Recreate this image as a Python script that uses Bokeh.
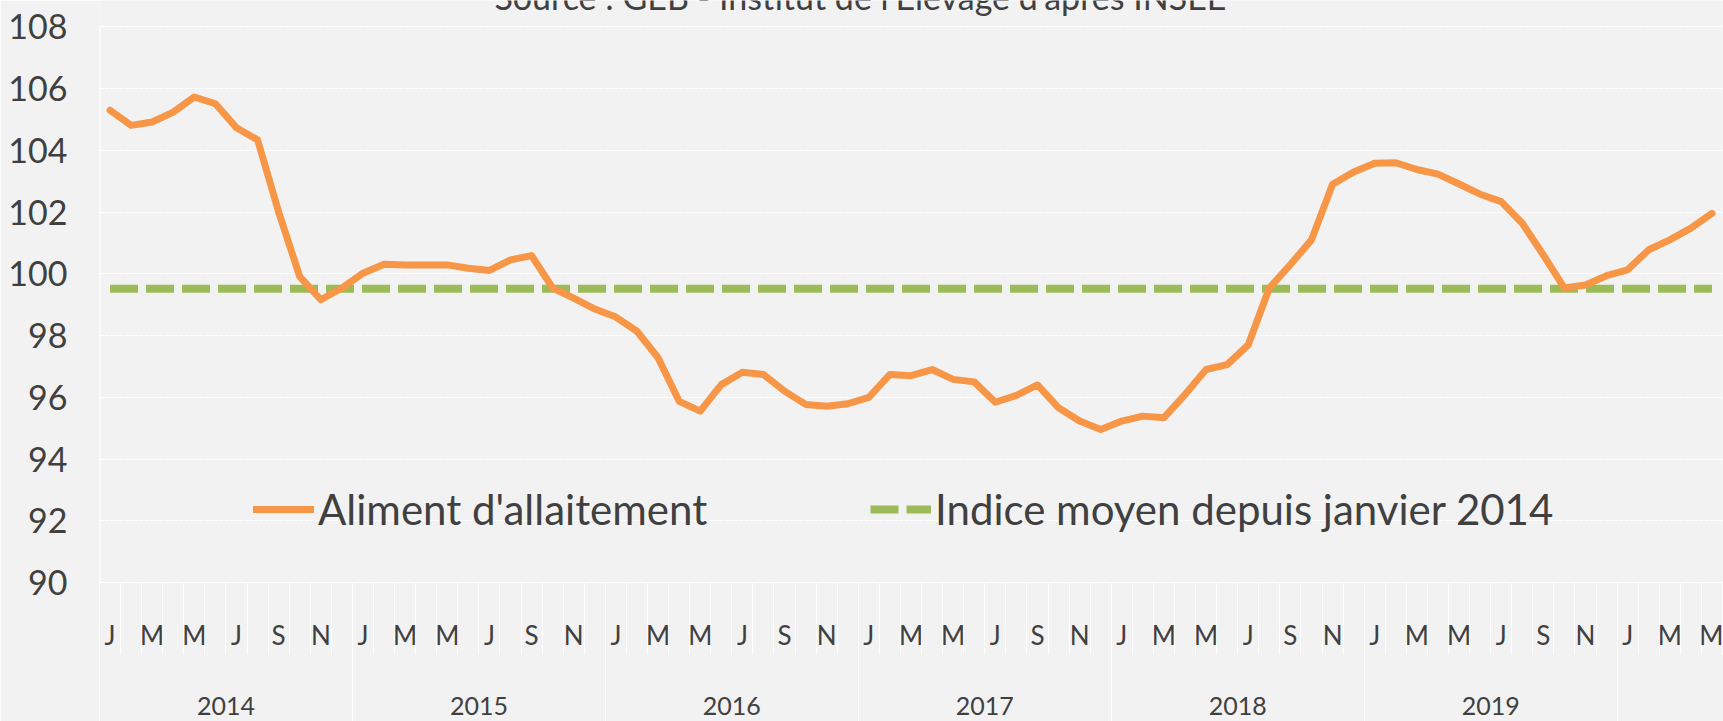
from bokeh.plotting import figure
from bokeh.models import FixedTicker, LinearAxis, Range1d, Legend, LegendItem, Label
from bokeh.embed import file_html
from bokeh.resources import INLINE

# ---------------- data ----------------
years = ["2014", "2015", "2016", "2017", "2018", "2019"]
month_letters = ["J", "F", "M", "A", "M", "J", "J", "A", "S", "O", "N", "D"]
# monthly index, janvier 2014 -> mai 2020
aliment = [
    105.30, 104.81, 104.92, 105.24, 105.73, 105.51, 104.73, 104.34, 102.00, 99.91, 99.16, 99.54,
    100.02, 100.31, 100.29, 100.29, 100.29, 100.18, 100.11, 100.45, 100.59, 99.54, 99.21, 98.86,
    98.60, 98.14, 97.28, 95.87, 95.55, 96.41, 96.81, 96.74, 96.20, 95.77, 95.71, 95.79,
    96.00, 96.74, 96.70, 96.90, 96.58, 96.50, 95.84, 96.06, 96.40, 95.66, 95.23, 94.96,
    95.23, 95.39, 95.34, 96.09, 96.90, 97.06, 97.70, 99.54, 100.30, 101.10, 102.90, 103.30,
    103.58, 103.60, 103.38, 103.23, 102.91, 102.58, 102.34, 101.64, 100.61, 99.54, 99.64, 99.94,
    100.13, 100.78, 101.10, 101.48, 101.96,
]
indice_moyen = 99.52
y_ticks = [90, 92, 94, 96, 98, 100, 102, 104, 106, 108]

series_label = "Aliment d'allaitement"
mean_label = "Indice moyen depuis janvier 2014"
source_text = "Source : GEB - Institut de l'Elevage d'après INSEE"

# ---------------- derived positions (half-month units) ----------------
n = len(aliment)
x = [2 * i + 1 for i in range(n)]               # month centres
mean_vals = [indice_moyen] * n
month_ticks = [2 * i + 1 for i in range(0, n, 2)]
month_overrides = {2 * i + 1: month_letters[i % 12] for i in range(0, n, 2)}
month_bounds = [2 * i for i in range(n + 1)]
year_ticks = [24 * k + 12 for k in range(len(years))]
year_overrides = {24 * k + 12: years[k] for k in range(len(years))}
year_bounds = [24 * k for k in range((n + 11) // 12 + 1) if 24 * k <= 2 * n]

BG = "#f2f2f2"
TXT = "#404040"
FONT = "Lato"

p = figure(width=1723, height=721, output_backend="svg", toolbar_location=None,
           x_range=Range1d(0, 2 * n), y_range=Range1d(90, 108.855),
           min_border_left=99, min_border_right=1, min_border_top=0, min_border_bottom=139)
p.background_fill_color = BG
p.border_fill_color = BG
p.outline_line_color = None

# grid
p.xgrid.visible = False
p.ygrid.ticker = FixedTicker(ticks=y_ticks)
p.ygrid.grid_line_color = "white"
p.ygrid.grid_line_width = 1
p.ygrid.grid_line_dash = "4 1"

# y axis
ya = p.yaxis[0]
ya.ticker = FixedTicker(ticks=y_ticks)
ya.axis_line_color = None
ya.major_tick_line_color = None
ya.minor_tick_line_color = None
ya.major_tick_out = 0
ya.major_tick_in = 0
ya.major_label_standoff = 32
ya.major_label_text_font = FONT
ya.major_label_text_font_size = "34px"
ya.major_label_text_color = TXT
# vertical axis line, from the lowest to the highest tick
p.segment(x0=[month_bounds[0]], y0=[y_ticks[0]], x1=[month_bounds[0]], y1=[y_ticks[-1]],
          line_color="white", line_width=2)

# month axis
xa = p.xaxis[0]
xa.ticker = FixedTicker(ticks=month_ticks, minor_ticks=month_bounds)
xa.major_label_overrides = month_overrides
xa.major_tick_out = 0
xa.major_tick_in = 0
xa.major_tick_line_color = None
xa.minor_tick_out = 72
xa.minor_tick_in = 0
xa.minor_tick_line_color = "white"
xa.axis_line_color = "white"
xa.major_label_standoff = -36
xa.major_label_text_font = FONT
xa.major_label_text_font_size = "26px"
xa.major_label_text_color = TXT

# year axis
yax = LinearAxis(ticker=FixedTicker(ticks=year_ticks, minor_ticks=year_bounds),
                 major_label_overrides=year_overrides)
yax.major_tick_out = 0
yax.major_tick_in = 0
yax.major_tick_line_color = None
yax.minor_tick_out = 72
yax.minor_tick_in = 0
yax.minor_tick_line_color = "white"
yax.axis_line_color = None
yax.major_label_standoff = -29
yax.major_label_text_font = FONT
yax.major_label_text_font_size = "25px"
yax.major_label_text_color = TXT
p.add_layout(yax, "below")

# series
r_mean = p.line(x, mean_vals, line_color="#9BBB59", line_width=8, line_dash="28 8")
r_al = p.line(x, aliment, line_color="#F79646", line_width=7, line_join="round", line_cap="round")

# legends (two, positioned independently)
def make_legend(label, r, loc):
    lg = Legend(items=[LegendItem(label=label, renderers=[r])], location=loc,
                orientation="horizontal", padding=0, margin=0, spacing=0,
                glyph_width=61, glyph_height=40, label_standoff=4,
                background_fill_alpha=0, border_line_alpha=0,
                label_text_font=FONT, label_text_font_size="42px", label_text_color=TXT)
    return lg

p.add_layout(make_legend(series_label, r_al, (154, 48)))
p.add_layout(make_legend(mean_label, r_mean, (771, 48)))

# source line (cut at the top as in the original)
p.add_layout(Label(x=72.2, y=108.98, text=source_text, text_align="center",
                   text_baseline="alphabetic", text_font=FONT, text_font_size="34px",
                   text_color=TXT))

open("out.html", "w").write(file_html(p, INLINE, title="Aliment d'allaitement"))
